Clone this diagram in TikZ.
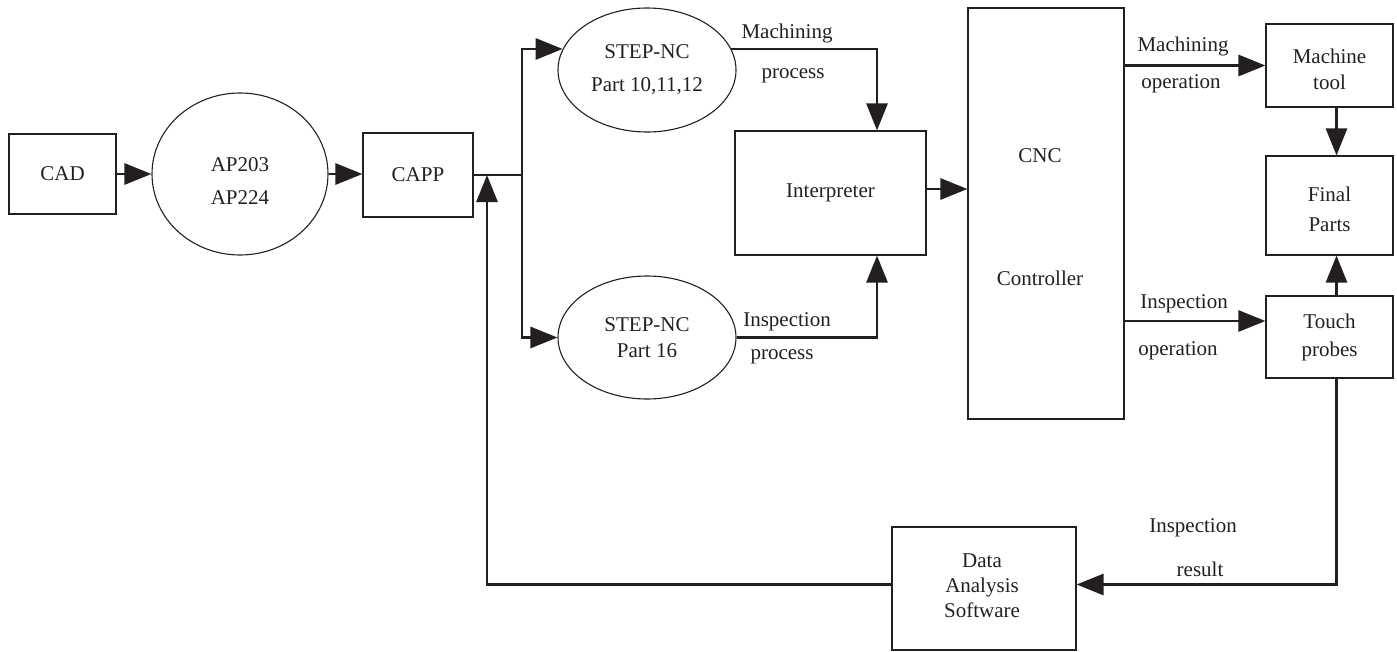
\documentclass[tikz,border=0pt]{standalone}
\usepackage{fontspec}
\setmainfont{Liberation Serif}
\usetikzlibrary{shapes.geometric,arrows.meta}
\definecolor{ink}{HTML}{231F20}
\begin{document}
\begin{tikzpicture}[x=1pt,y=-1pt,
  every node/.style={font=\fontsize{21}{25}\selectfont, text=ink},
  box/.style={draw=ink, line width=1.1pt, rectangle, inner sep=0pt, align=center},
  oval/.style={draw=ink, line width=1.1pt, ellipse, inner sep=0pt, align=center},
  flow/.style={draw=ink, line width=2.8pt, -{Triangle[length=27pt,width=21pt]}},
  link/.style={draw=ink, line width=2.8pt},
  lbl/.style={inner sep=0pt}]
\useasboundingbox (0,0) rectangle (1397,651);

% blocks
\node[box, minimum width=107pt, minimum height=80pt] (cad) at (62.5,174) {CAD};
\node[oval, minimum width=176pt, minimum height=162pt,
      label={[align=center, inner sep=0pt, yshift=-7pt]center:AP203\\[8pt]AP224}] (ap) at (240,174) {};
\node[box, minimum width=110pt, minimum height=84pt] (capp) at (418,175) {CAPP};
\node[oval, minimum width=178pt, minimum height=124pt] (s1) at (647,70) {STEP-NC\\[8pt]Part 10,11,12};
\node[oval, minimum width=178pt, minimum height=123pt] (s2) at (647,337.5) {STEP-NC\\[1pt]Part 16};
\node[box, minimum width=191pt, minimum height=124pt] (interp) at (830.5,193) {Interpreter};
\node[box, minimum width=156pt, minimum height=411pt,
      label={[align=center, inner sep=0pt, yshift=-4pt, xshift=-6pt]center:CNC\\[98pt]Controller}] (cnc) at (1046,213.5) {};
\node[box, minimum width=127pt, minimum height=83pt,
      label={[align=center, inner sep=0pt, yshift=-4pt]center:Machine\\[1pt]tool}] (mt) at (1329.5,65.5) {};
\node[box, minimum width=127pt, minimum height=99pt,
      label={[align=center, inner sep=0pt, yshift=-4pt]center:Final\\[5pt]Parts}] (fp) at (1329.5,205.5) {};
\node[box, minimum width=127pt, minimum height=82pt] (tp) at (1329.5,337) {Touch\\[3pt]probes};
\node[box, minimum width=184pt, minimum height=123pt,
      label={[align=center, inner sep=0pt, yshift=3pt, xshift=-2pt]center:Data\\Analysis\\Software}] (das) at (984,588.5) {};

% branch points
\coordinate (j) at (522,175);
\coordinate (fb) at (487,175);
\coordinate (io) at ([yshift=16pt]tp.west);
\coordinate (dr) at ([yshift=4pt]das.east);
\coordinate (dl) at ([yshift=4pt]das.west);
\coordinate (ie) at ([yshift=4pt]interp.east);

% connectors
\draw[flow] (cad) -- (ap);
\draw[flow] (ap.east) -- (ap.east -| capp.west);
\draw[link] (capp.east) -- (j);
\draw[flow] (j) |- (s1.166);
\draw[flow] (j) |- (s2.west);
\draw[flow] (s1.14) -| ([xshift=46.5pt]interp.north);
\draw[flow] (s2.east) -| ([xshift=46.5pt]interp.south);
\draw[flow] (ie) -- (ie -| cnc.west);
\draw[flow] (mt.west -| cnc.east) -- (mt.west);
\draw[flow] (io -| cnc.east) -- (io);
\draw[flow] ([xshift=7pt]mt.south) -- ([xshift=7pt]fp.north);
\draw[flow] ([xshift=7pt]tp.north) -- ([xshift=7pt]fp.south);
\draw[flow] ([xshift=7pt]tp.south) |- (dr);
\draw[flow] (dl) -| (fb);

% connector labels
\node[lbl] (lmp1) at (787,33) {Machining};
\node[lbl] (lmp2) at (793,76) {process};
\node[lbl] (lip1) at (787,322) {Inspection};
\node[lbl] (lip2) at (782,357) {process};
\node[lbl] (lmo1) at (1183,46) {Machining};
\node[lbl] (lmo2) at (1181,84) {operation};
\node[lbl] (lio1) at (1184,304) {Inspection};
\node[lbl] (lio2) at (1178,351) {operation};
\node[lbl] (lir1) at (1193,528) {Inspection};
\node[lbl] (lir2) at (1200,569) {result};
\end{tikzpicture}
\end{document}
